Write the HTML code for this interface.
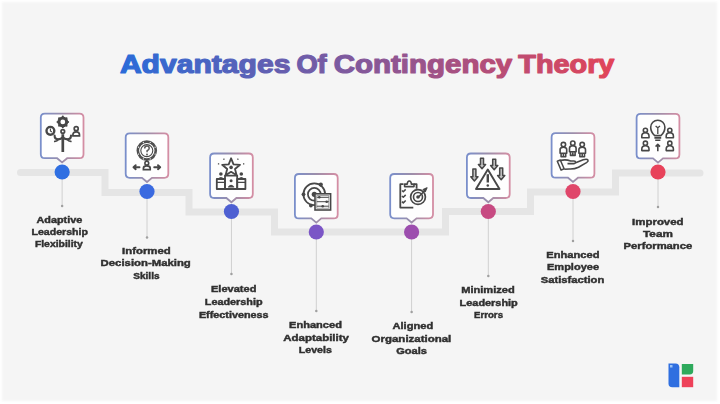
<!DOCTYPE html>
<html><head><meta charset="utf-8"><style>
html,body{margin:0;padding:0;}
body{width:720px;height:404px;position:relative;overflow:hidden;background:#fff;font-family:"Liberation Sans",sans-serif;}
#bgp{position:absolute;left:2.2px;top:1.8px;width:714.8px;height:399.2px;background:#f5f5f5;filter:blur(0.9px);}
svg{position:absolute;left:0;top:0;}
</style></head><body>
<div id="bgp"></div>
<svg width="720" height="404" viewBox="0 0 720 404">
<defs>
<linearGradient id="bg" x1="0" y1="0" x2="1" y2="0"><stop offset="0" stop-color="#7a8fcb"/><stop offset="0.5" stop-color="#9c8eaa"/><stop offset="1" stop-color="#d48ea4"/></linearGradient>
<linearGradient id="tg" gradientUnits="userSpaceOnUse" x1="120" y1="0" x2="614" y2="0"><stop offset="0" stop-color="#2a6bd9"/><stop offset="1" stop-color="#e24458"/></linearGradient>
</defs>
<g font-family="Liberation Sans" font-weight="bold" font-size="25" fill="url(#tg)" stroke="url(#tg)" stroke-width="1.2" stroke-linejoin="round">
<text x="119.9" y="72.6" textLength="170.5" lengthAdjust="spacingAndGlyphs">Advantages</text>
<text x="296.4" y="72.6" textLength="30.3" lengthAdjust="spacingAndGlyphs">Of</text>
<text x="333.8" y="72.6" textLength="178.4" lengthAdjust="spacingAndGlyphs">Contingency</text>
<text x="518.3" y="72.6" textLength="96.1" lengthAdjust="spacingAndGlyphs">Theory</text>
</g>
<polyline points="20.5,172.5 105,172.5 105,192.5 189,192.5 189,212 274.5,212 274.5,232 445.5,232 445.5,211.5 530.5,211.5 530.5,192 615.5,192 615.5,173 700,173" fill="none" stroke="#e5e5e5" stroke-width="7" stroke-linecap="round" stroke-linejoin="miter"/>
<line x1="62.15" y1="172" x2="62.15" y2="206" stroke="#d0d0d0" stroke-width="1"/><circle cx="62.15" cy="206" r="1.25" fill="#a0a0a0"/>
<path d="M44.8,113.6 H79.5 Q83.5,113.6 83.5,117.6 V154.2 Q83.5,158.2 79.5,158.2 H67.2 L62.1,162.4 L57.1,158.2 H44.8 Q40.8,158.2 40.8,154.2 V117.6 Q40.8,113.6 44.8,113.6 Z" fill="#fefefe" stroke="url(#bg)" stroke-width="1.8"/>

<g fill="none" stroke="#474747" stroke-width="1.9" stroke-linecap="round">
<circle cx="62.8" cy="121.9" r="3.9" stroke-width="3"/>
<circle cx="50.4" cy="130.8" r="3.9" stroke-width="2.4"/>
<circle cx="76.2" cy="128.7" r="2" stroke-width="1.7"/>
<path d="M72.9,135.8 v-1 q0,-3 3.3,-3 q3.3,0 3.3,3 v1 z" stroke-width="1.7"/>
<circle cx="62.8" cy="131.4" r="1.8" stroke-width="1.7"/>
<path d="M62.8,134.2 V152" stroke-width="2.7" stroke-linecap="butt"/>
<path d="M54.6,135.6 q0,3.8 3.6,3.8 q3,0 4.6,-2.2 q1.6,2.2 4.6,2.2 q3.6,0 3.6,-3.8" stroke-width="2.1"/>
<path d="M58.2,139.4 q-1,2 -3.4,2 M67.4,139.4 q1,2 3.4,2" stroke-width="1.8"/>
</g>
<g fill="#474747">
<circle cx="62.8" cy="116.6" r="1"/><circle cx="62.8" cy="127.2" r="1"/><circle cx="57.5" cy="121.9" r="1"/><circle cx="68.1" cy="121.9" r="1"/>
<circle cx="59.05" cy="118.15" r="1"/><circle cx="66.55" cy="118.15" r="1"/><circle cx="59.05" cy="125.65" r="1"/><circle cx="66.55" cy="125.65" r="1"/>
</g>
<circle cx="62.8" cy="121.9" r="1.1" fill="#fff"/>
<path d="M50.4,128.6 v2.4 l1.5,1" stroke="#474747" stroke-width="1.1" fill="none"/>

<circle cx="62.15" cy="172" r="7.6" fill="#2f6fe2"/>
<line x1="147" y1="191.5" x2="147" y2="237.5" stroke="#d0d0d0" stroke-width="1"/><circle cx="147" cy="237.5" r="1.25" fill="#a0a0a0"/>
<path d="M129.7,133.3 H164.3 Q168.3,133.3 168.3,137.3 V173.8 Q168.3,177.8 164.3,177.8 H152.0 L147.0,182.0 L142.0,177.8 H129.7 Q125.7,177.8 125.7,173.8 V137.3 Q125.7,133.3 129.7,133.3 Z" fill="#fefefe" stroke="url(#bg)" stroke-width="1.8"/>

<g fill="none" stroke="#474747">
<circle cx="146.8" cy="150.6" r="9" stroke-width="2.6" stroke="#505050"/>
<circle cx="155.11" cy="154.04" r="0.65" fill="#fff" stroke="none"/><circle cx="150.24" cy="158.91" r="0.65" fill="#fff" stroke="none"/><circle cx="143.36" cy="158.91" r="0.65" fill="#fff" stroke="none"/><circle cx="138.49" cy="154.04" r="0.65" fill="#fff" stroke="none"/><circle cx="138.49" cy="147.16" r="0.65" fill="#fff" stroke="none"/><circle cx="143.36" cy="142.29" r="0.65" fill="#fff" stroke="none"/><circle cx="150.24" cy="142.29" r="0.65" fill="#fff" stroke="none"/><circle cx="155.11" cy="147.16" r="0.65" fill="#fff" stroke="none"/>
<circle cx="146.8" cy="150.6" r="6" stroke-width="1.1"/>
<path d="M144.7,148.6 q0,-2.5 2.2,-2.5 q2.3,0 2.3,2.2 q0,1.5 -2.1,2.4 v1.5" stroke-width="1.5" stroke="#5a5a5a"/>
<path d="M146.8,159 v1.5" stroke-width="1.4"/>
<circle cx="146.8" cy="163.2" r="1.9" stroke-width="1.6"/>
<path d="M143.4,169.6 v-1.3 q0,-2.4 3.4,-2.4 q3.4,0 3.4,2.4 v1.3 z" stroke-width="1.7"/>
<path d="M133.5,167.2 h6 M133.5,167.2 l2.2,-2 M133.5,167.2 l2.2,2 M160.2,167.2 h-6 M160.2,167.2 l-2.2,-2 M160.2,167.2 l-2.2,2" stroke-width="1.9" stroke-linecap="round"/>
</g>
<circle cx="147" cy="154.5" r="0.95" fill="#5a5a5a"/>

<circle cx="147" cy="191.5" r="7.6" fill="#3a6ae0"/>
<line x1="231.45" y1="211.5" x2="231.45" y2="274" stroke="#d0d0d0" stroke-width="1"/><circle cx="231.45" cy="274" r="1.25" fill="#a0a0a0"/>
<path d="M214.1,153.5 H248.8 Q252.8,153.5 252.8,157.5 V194.0 Q252.8,198.0 248.8,198.0 H236.4 L231.4,202.2 L226.4,198.0 H214.1 Q210.1,198.0 210.1,194.0 V157.5 Q210.1,153.5 214.1,153.5 Z" fill="#fefefe" stroke="url(#bg)" stroke-width="1.8"/>

<g fill="none" stroke="#474747" stroke-width="1.8" stroke-linejoin="round">
<path d="M231.10,158.30 L233.51,164.38 L240.04,164.80 L235.00,168.97 L236.63,175.30 L231.10,171.80 L225.57,175.30 L227.20,168.97 L222.16,164.80 L228.69,164.38 Z"/>
<path d="M223.6,158.6 l0.6,1.1 M238.2,158.6 l-0.6,1.1 M217.9,163.8 h1.3 M243,163.8 h1.3" stroke-width="1.3"/>
<rect x="225" y="175.6" width="12.2" height="13.4"/>
<rect x="216.8" y="179" width="8.2" height="10"/>
<rect x="237.2" y="179" width="8.2" height="10"/>
<path d="M216.8,182.4 h8.2 M237.2,182.4 h8.2" stroke-width="1.4"/>
</g>
<circle cx="231.1" cy="167.4" r="1.8" fill="#474747"/>
<circle cx="220.9" cy="174" r="1.8" fill="#474747"/><path d="M218,178.6 q2.9,-3.2 5.8,0z" fill="#474747"/>
<circle cx="241.3" cy="174" r="1.8" fill="#474747"/><path d="M238.4,178.6 q2.9,-3.2 5.8,0z" fill="#474747"/>
<circle cx="231.1" cy="180.8" r="1.5" fill="#474747"/>
<path d="M228,186.8 q3.1,-4 6.2,0 v0.6 h-6.2z" fill="#474747"/>

<circle cx="231.45" cy="211.5" r="7.6" fill="#4e60d2"/>
<line x1="316.3" y1="232" x2="316.3" y2="311" stroke="#d0d0d0" stroke-width="1"/><circle cx="316.3" cy="311" r="1.25" fill="#a0a0a0"/>
<path d="M298.9,174.0 H333.7 Q337.7,174.0 337.7,178.0 V214.4 Q337.7,218.4 333.7,218.4 H321.3 L316.3,222.6 L311.3,218.4 H298.9 Q294.9,218.4 294.9,214.4 V178.0 Q294.9,174.0 298.9,174.0 Z" fill="#fefefe" stroke="url(#bg)" stroke-width="1.8"/>

<g fill="none" stroke="#474747" stroke-linecap="round">
<circle cx="314.3" cy="194.3" r="10.9" stroke-width="1.7"/>
<circle cx="314.3" cy="194.3" r="6.4" stroke-width="1.7"/>
</g>
<circle cx="314.3" cy="194.3" r="2.6" fill="#474747"/>
<circle cx="320.8" cy="184.6" r="2.1" fill="#474747"/>
<circle cx="303.5" cy="194.3" r="1.9" fill="#474747"/>
<circle cx="310.9" cy="205.5" r="1.9" fill="#474747"/>
<rect x="315" y="193.8" width="15.6" height="16.2" fill="#fdfdfd" stroke="#474747" stroke-width="1.6"/>
<rect x="316.8" y="195.6" width="12" height="12.6" fill="none" stroke="#8a8a8a" stroke-width="0.8"/>
<path d="M316.8,197.3 h12 M316.8,201.7 h12 M316.8,206.2 h12" stroke="#474747" stroke-width="1"/>
<circle cx="319.3" cy="197.3" r="1.3" fill="#474747"/><circle cx="326.7" cy="201.7" r="1.3" fill="#474747"/><circle cx="322.7" cy="206.2" r="1.3" fill="#474747"/>

<circle cx="316.3" cy="232" r="7.6" fill="#7b55c6"/>
<line x1="411.6" y1="232" x2="411.6" y2="312" stroke="#d0d0d0" stroke-width="1"/><circle cx="411.6" cy="312" r="1.25" fill="#a0a0a0"/>
<path d="M394.2,174.0 H429.0 Q433.0,174.0 433.0,178.0 V214.3 Q433.0,218.3 429.0,218.3 H416.6 L411.6,222.5 L406.6,218.3 H394.2 Q390.2,218.3 390.2,214.3 V178.0 Q390.2,174.0 394.2,174.0 Z" fill="#fefefe" stroke="url(#bg)" stroke-width="1.8"/>

<g fill="none" stroke="#474747" stroke-width="1.8" stroke-linejoin="round">
<path d="M403.5,184.2 h-3.2 v23.4 h13" />
<path d="M414,184.2 h2.6 v4.5"/>
<path d="M404.6,186.6 v-2.5 h2.6 q0.3,-3.1 2.1,-3.1 q1.8,0 2.1,3.1 h2.6 v2.5 z" stroke-width="1.6"/>
<path d="M401.9,190.5 l1.4,1.3 2.4,-2.4 M401.9,196 l1.4,1.3 2.4,-2.4 M401.9,201.6 l1.4,1.3 2.4,-2.4" stroke-width="1.5"/>
</g>
<circle cx="418" cy="197" r="7.4" fill="#fefefe" stroke="#474747" stroke-width="1.7"/>
<circle cx="418" cy="197" r="4.5" fill="none" stroke="#474747" stroke-width="1.6"/>
<circle cx="418" cy="197" r="1.8" fill="#474747"/>
<path d="M418.3,197.3 L425.5,190" stroke="#474747" stroke-width="1.6"/>
<path d="M423.2,189.5 l3.8,-1.7 -1.7,3.8 z" fill="#474747" stroke="#474747" stroke-width="1.2" stroke-linejoin="round"/>

<circle cx="411.6" cy="232" r="7.6" fill="#9c4eae"/>
<line x1="488.3" y1="211.5" x2="488.3" y2="276" stroke="#d0d0d0" stroke-width="1"/><circle cx="488.3" cy="276" r="1.25" fill="#a0a0a0"/>
<path d="M470.9,153.5 H505.7 Q509.7,153.5 509.7,157.5 V194.0 Q509.7,198.0 505.7,198.0 H493.3 L488.3,202.2 L483.3,198.0 H470.9 Q466.9,198.0 466.9,194.0 V157.5 Q466.9,153.5 470.9,153.5 Z" fill="#fefefe" stroke="url(#bg)" stroke-width="1.8"/>

<g fill="none" stroke="#474747" stroke-width="1.9" stroke-linejoin="round">
<path d="M487.8,169.5 L499.5,189 H476 Z"/>
</g>
<path d="M487.8,174.2 V182.5" stroke="#474747" stroke-width="2.4"/><circle cx="487.8" cy="185.6" r="1.25" fill="#474747"/>
<g fill="#c4c4c4" stroke="#474747" stroke-width="1.5" stroke-linejoin="round">
<path d="M480.5,158.3 h3 v6.3 h2.1 l-3.6,4.2 -3.6,-4.2 h2.1 z"/>
<path d="M492.7,159.2 h3 v6.4 h2.1 l-3.6,4.2 -3.6,-4.2 h2.1 z"/>
<path d="M472.9,169 h3 v7.8 h2.1 l-3.6,4.2 -3.6,-4.2 h2.1 z"/>
<path d="M499.7,168 h3 v7.6 h2.1 l-3.6,4.2 -3.6,-4.2 h2.1 z"/>
</g>

<circle cx="488.3" cy="211.5" r="7.6" fill="#c74a82"/>
<line x1="573" y1="191.5" x2="573" y2="241" stroke="#d0d0d0" stroke-width="1"/><circle cx="573" cy="241" r="1.25" fill="#a0a0a0"/>
<path d="M555.6,133.2 H590.4 Q594.4,133.2 594.4,137.2 V173.7 Q594.4,177.7 590.4,177.7 H578.0 L573.0,181.9 L568.0,177.7 H555.6 Q551.6,177.7 551.6,173.7 V137.2 Q551.6,133.2 555.6,133.2 Z" fill="#fefefe" stroke="url(#bg)" stroke-width="1.8"/>

<g fill="none" stroke="#474747" stroke-width="1.6" stroke-linejoin="round">
<circle cx="563.4" cy="144.6" r="2.2"/><path d="M560.1,153.2 v-3.6 q0,-2.4 3.3,-2.4 q3.3,0 3.3,2.4 v3.6 z"/><path d="M561.1,153.2 v3.6 h4.6 v-3.6 M563.4,153.6 v3" /><circle cx="572.8" cy="143.2" r="2.2"/><path d="M569.5,151.79999999999998 v-3.6 q0,-2.4 3.3,-2.4 q3.3,0 3.3,2.4 v3.6 z"/><path d="M570.5,151.79999999999998 v3.6 h4.6 v-3.6 M572.8,152.2 v3" /><circle cx="582.2" cy="144.6" r="2.2"/><path d="M578.9000000000001,153.2 v-3.6 q0,-2.4 3.3,-2.4 q3.3,0 3.3,2.4 v3.6 z"/><path d="M579.9000000000001,153.2 v3.6 h4.6 v-3.6 M582.2,153.6 v3" />
<path d="M557.3,161.3 l3.8,8.8 l3,-1.3 l-3.8,-8.8 z" stroke-width="1.5"/>
<path d="M560.6,160.4 q5.5,-1.2 10,0.6 h3.4 q1.5,0 1.5,1.3 q0,1.3 -1.5,1.3 h-6.5 M575,163 l8.2,-3.2 q3.8,-1.3 4.8,0.3 q0.6,1.2 -1.5,2.5 l-8,4.6 q-4,2 -9,1.8 l-5.2,0.3" stroke-width="1.6"/>
</g>

<circle cx="573" cy="191.5" r="7.6" fill="#e0466a"/>
<line x1="658" y1="172" x2="658" y2="207" stroke="#d0d0d0" stroke-width="1"/><circle cx="658" cy="207" r="1.25" fill="#a0a0a0"/>
<path d="M640.6,113.8 H675.4 Q679.4,113.8 679.4,117.8 V154.4 Q679.4,158.4 675.4,158.4 H663.0 L658.0,162.6 L653.0,158.4 H640.6 Q636.6,158.4 636.6,154.4 V117.8 Q636.6,113.8 640.6,113.8 Z" fill="#fefefe" stroke="url(#bg)" stroke-width="1.8"/>

<g fill="none" stroke="#474747" stroke-width="1.6" stroke-linejoin="round">
<path d="M654.7,135.6 q-4,-3.3 -4,-8.3 a7.1,7.1 0 0 1 14.2,0 q0,5 -4,8.3 z"/>
<path d="M654.4,137.9 h6.8 M655.2,140.2 h5.2"/>
<path d="M657.8,134 v-6.5 M655.6,126 l2.2,1.8 2.2,-1.8" stroke-width="1.3"/>
<circle cx="645.4" cy="130.3" r="2.1"/><path d="M641.8,137.7 v-1.6 q0,-3.3 3.6,-3.3 q3.6,0 3.6,3.3 v1.6 z"/><circle cx="669.8" cy="130.3" r="2.1"/><path d="M666.1999999999999,137.7 v-1.6 q0,-3.3 3.6,-3.3 q3.6,0 3.6,3.3 v1.6 z"/><circle cx="645.4" cy="143.20000000000002" r="2.1"/><path d="M641.8,150.6 v-1.6 q0,-3.3 3.6,-3.3 q3.6,0 3.6,3.3 v1.6 z"/><circle cx="669.8" cy="143.20000000000002" r="2.1"/><path d="M666.1999999999999,150.6 v-1.6 q0,-3.3 3.6,-3.3 q3.6,0 3.6,3.3 v1.6 z"/>
<path d="M657.8,151.2 v-6.8 M655.6,146.6 l2.2,-2.2 2.2,2.2" stroke-width="1.6"/>
</g>

<circle cx="658" cy="172" r="7.6" fill="#e8425a"/>
<g opacity="0.999" font-family="Liberation Sans" font-weight="bold" font-size="9.7" fill="#303030" stroke="#303030" stroke-width="0.45">
<text x="36.5" y="223" textLength="45.8" lengthAdjust="spacingAndGlyphs">Adaptive</text>
<text x="31.5" y="234.7" textLength="56.5" lengthAdjust="spacingAndGlyphs">Leadership</text>
<text x="34.9" y="246.5" textLength="47.9" lengthAdjust="spacingAndGlyphs">Flexibility</text>
<text x="122.1" y="253.9" textLength="48.6" lengthAdjust="spacingAndGlyphs">Informed</text>
<text x="100.6" y="266.2" textLength="90.2" lengthAdjust="spacingAndGlyphs">Decision-Making</text>
<text x="133.2" y="278.6" textLength="26.4" lengthAdjust="spacingAndGlyphs">Skills</text>
<text x="211.0" y="292.4" textLength="45.4" lengthAdjust="spacingAndGlyphs">Elevated</text>
<text x="204.8" y="305.2" textLength="57.8" lengthAdjust="spacingAndGlyphs">Leadership</text>
<text x="198.9" y="318" textLength="69.6" lengthAdjust="spacingAndGlyphs">Effectiveness</text>
<text x="289.1" y="328.2" textLength="52.8" lengthAdjust="spacingAndGlyphs">Enhanced</text>
<text x="283.2" y="340.7" textLength="65.8" lengthAdjust="spacingAndGlyphs">Adaptability</text>
<text x="298.8" y="353.2" textLength="33" lengthAdjust="spacingAndGlyphs">Levels</text>
<text x="392.5" y="328.9" textLength="40.8" lengthAdjust="spacingAndGlyphs">Aligned</text>
<text x="371.6" y="341.6" textLength="79.7" lengthAdjust="spacingAndGlyphs">Organizational</text>
<text x="396.2" y="354.2" textLength="30.8" lengthAdjust="spacingAndGlyphs">Goals</text>
<text x="461.2" y="292.9" textLength="53.5" lengthAdjust="spacingAndGlyphs">Minimized</text>
<text x="459.6" y="305.5" textLength="58.2" lengthAdjust="spacingAndGlyphs">Leadership</text>
<text x="474.0" y="318.2" textLength="29" lengthAdjust="spacingAndGlyphs">Errors</text>
<text x="546.3" y="257.5" textLength="53.2" lengthAdjust="spacingAndGlyphs">Enhanced</text>
<text x="547.0" y="270" textLength="52" lengthAdjust="spacingAndGlyphs">Employee</text>
<text x="540.7" y="282.7" textLength="63.6" lengthAdjust="spacingAndGlyphs">Satisfaction</text>
<text x="632.1" y="224.7" textLength="51.5" lengthAdjust="spacingAndGlyphs">Improved</text>
<text x="643.1" y="237" textLength="29.7" lengthAdjust="spacingAndGlyphs">Team</text>
<text x="623.6" y="249.2" textLength="68.6" lengthAdjust="spacingAndGlyphs">Performance</text>
</g>
<path d="M668.5,363.5 h7 q3.8,0 3.8,3.8 v19.9 h-7 q-3.8,0 -3.8,-3.8 z" fill="#2f6fe0"/>
<rect x="670" y="365" width="2.5" height="2.5" fill="#9cc4f5"/>
<path d="M681.8,364 h11.4 v7 q0,3.4 -3.4,3.4 h-8 z" fill="#2eaa5c"/>
<rect x="681.8" y="376.8" width="11.4" height="10.4" fill="#ee4159"/>
</svg>
</body></html>
